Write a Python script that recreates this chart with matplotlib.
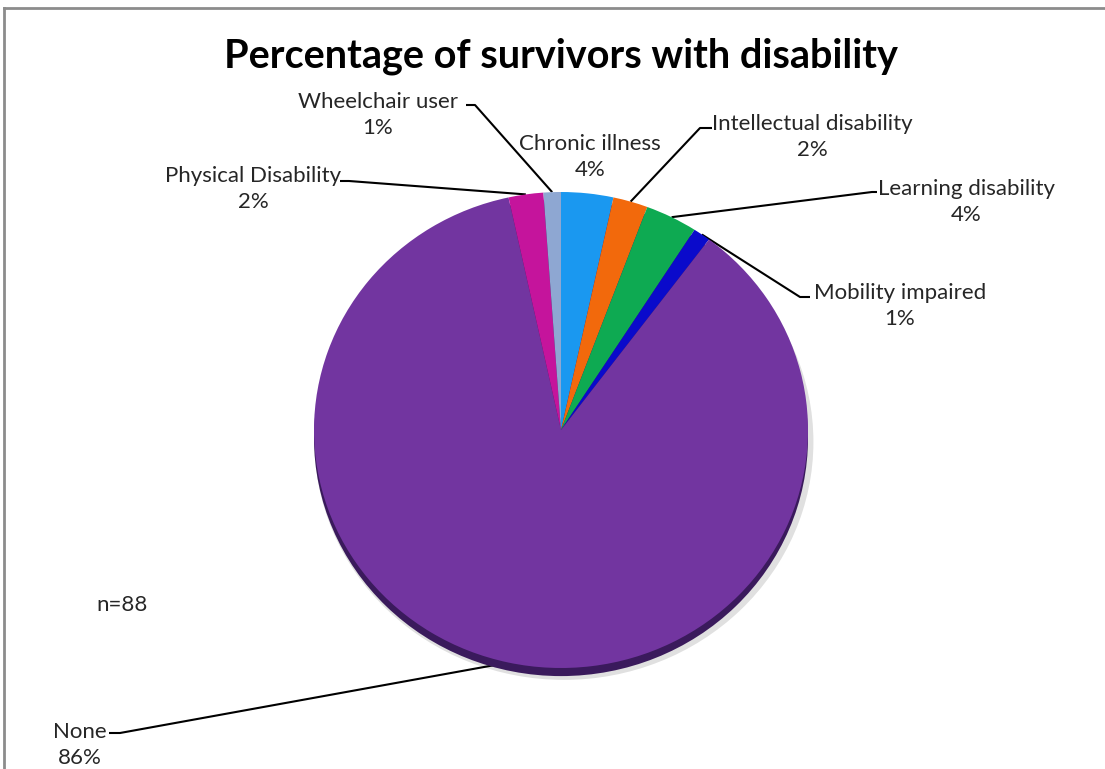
import matplotlib.pyplot as plt
import numpy as np
from matplotlib.patches import Ellipse

# values (n=88), labels as printed on the chart
categories = ['Chronic illness', 'Intellectual disability', 'Learning disability',
              'Mobility impaired', 'None', 'Physical Disability', 'Wheelchair user']
counts = [3, 2, 3, 1, 76, 2, 1]
pct_labels = ['4%', '2%', '4%', '1%', '86%', '2%', '1%']
colors = ['#1a98f0', '#f2690c', '#0eaa52', '#0a0acb', '#7235a0', '#c5149c', '#8ea7d2']

plt.rcParams['font.family'] = ['Lato', 'DejaVu Sans']

W, H = 1105, 769
fig = plt.figure(figsize=(W / 100, H / 100), dpi=100)

# overlay axes in pixel coords (y down)
ax = fig.add_axes([0, 0, 1, 1])
ax.set_xlim(0, W)
ax.set_ylim(H, 0)
ax.axis('off')

# pie geometry (pixels)
cx, cy, rx, ry = 561, 430, 247, 238
pax = fig.add_axes([(cx - rx) / W, (H - (cy + ry)) / H, 2 * rx / W, 2 * ry / H])
shadow = Ellipse((0.012, -0.05), 2.02, 2.0, color='#000000', alpha=0.12, lw=0, zorder=0)
edge = Ellipse((0, -0.034), 2.0, 2.0, color='#3a1a5c', lw=0, zorder=1)
for p in (shadow, edge):
    p.set_clip_on(False)
    pax.add_patch(p)
wedges, _ = pax.pie(counts, colors=colors, startangle=90, counterclock=False,
                    radius=1, wedgeprops=dict(linewidth=0))
for w in wedges:
    w.set_zorder(2)
    w.set_clip_on(False)
pax.set_aspect('auto')
pax.set_xlim(-1, 1)
pax.set_ylim(-1, 1)
pax.axis('off')

# frame
ax.plot([4, 4], [H, 8], color='#8c8c8c', lw=2)
ax.plot([4, W], [8, 8], color='#8c8c8c', lw=2)

ax.text(cx, 56, 'Percentage of survivors with disability', ha='center', va='center',
        fontsize=28.5, fontweight='bold', color='black')
ax.text(122, 605, 'n=88', ha='center', va='center', fontsize=16, color='#262626')

# label layout: text centre, and the leader line (text end, elbow)
label_pos = {
    'Chronic illness': (590, 157, None, None),
    'Intellectual disability': (812, 137, (712, 128), (700, 128)),
    'Learning disability': (966, 202, (877, 192), (872, 192)),
    'Mobility impaired': (900, 306, (810, 297), (800, 297)),
    'None': (80, 745, (109, 733), (120, 733)),
    'Physical Disability': (253, 189, (340, 181), (349, 181)),
    'Wheelchair user': (378, 115, (466, 105), (475, 105)),
}

total = sum(counts)
start = 0.0
for name, c, pl in zip(categories, counts, pct_labels):
    mid = (start + c / 2) / total * 2 * np.pi
    start += c
    tx, ty, p_end, p_elbow = label_pos[name]
    ax.text(tx, ty, name + '\n' + pl, ha='center', va='center', fontsize=16,
            color='#262626', linespacing=1.4)
    if p_end is None:
        continue
    # slice edge point, from pie data coords to pixels
    disp = pax.transData.transform((np.sin(mid), np.cos(mid)))
    ex, ey = ax.transData.inverted().transform(disp)
    ax.plot([p_end[0], p_elbow[0], ex], [p_end[1], p_elbow[1], ey], color='black', lw=1.5,
            solid_capstyle='butt')

fig.savefig('out.png', dpi=100)
